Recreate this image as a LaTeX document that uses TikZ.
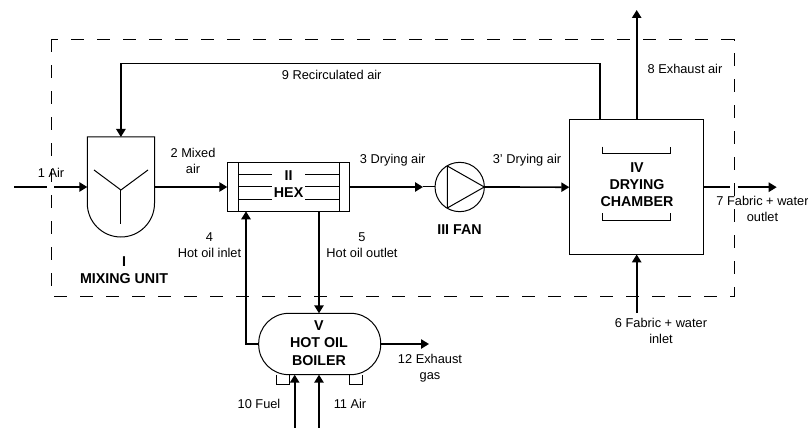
\documentclass[tikz,border=0pt]{standalone}
\usepackage{fontspec}
\setmainfont{Liberation Sans}
\usetikzlibrary{arrows.meta}

\tikzset{every picture/.style={line width=0.75pt}}
\tikzset{
	unit/.style={draw,inner sep=0pt,outer sep=0pt},
	flow/.style={line width=1.25pt},
	flowarrow/.style={line width=1.25pt,-{Triangle[length=6pt,width=7pt]}},
	streamtext/.style={inner sep=0pt,align=center,font=\fontsize{9.6}{12}\selectfont},
	unittext/.style={inner sep=0pt,align=center,font=\fontsize{10.7}{13}\selectfont\bfseries}
}

\begin{document}
\begin{tikzpicture}[x=0.75pt,y=0.75pt,yscale=-1,xscale=1]
	\useasboundingbox (0,0) rectangle (808,428);

	%Shape: Rectangle, plant boundary
	\draw [dash pattern=on 9.75pt off 9.75pt,dash phase=4.3pt] (51,40) -- (734,40) -- (734,296) -- (51,296) -- cycle ;

	%Shape: Mixing unit
	\node [inner sep=0pt,outer sep=0pt,minimum width=50.4pt,minimum height=75pt] (mixer) at (120.9,187) {};
	\draw (mixer.north west) -- (mixer.north east) -- (154.5,203.4) arc [start angle=0,end angle=180,radius=33.6] -- cycle ;
	\draw (94,170) -- (120.9,190) -- (148,170) ;
	\draw (120.9,190) -- (120.9,224) ;

	%Shape: Heat exchanger
	\node [unit,minimum width=92pt,minimum height=36.5pt] (hex) at (288.6,187) {};
	\draw (238,162.7) -- (238,211.3) ;
	\draw (339.3,162.7) -- (339.3,211.3) ;
	\draw (238,175) -- (272,175) ;
	\draw (305,175) -- (339.3,175) ;
	\draw (238,187) -- (272,187) ;
	\draw (305,187) -- (339.3,187) ;
	\draw (238,199.6) -- (272,199.6) ;
	\draw (305,199.6) -- (339.3,199.6) ;

	%Shape: Fan
	\node [unit,circle,minimum size=37pt] (fan) at (459.7,187) {};
	\draw (447.3,166) -- (484.3,187) -- (447.3,208) -- cycle ;

	%Shape: Drying chamber
	\node [unit,minimum width=100.8pt,minimum height=100.8pt] (chamber) at (636.5,187.2) {};
	\draw (602.7,146.7) -- (602.7,154) -- (670.3,154) -- (670.3,146.7) ;
	\draw (602.7,213.3) -- (602.7,220.7) -- (670.3,220.7) -- (670.3,213.3) ;

	%Shape: Hot oil boiler
	\node [unit,rounded corners=22.5pt,minimum width=91.5pt,minimum height=46pt] (boiler) at (319.7,344) {};
	\draw (276.7,374.7) -- (276.7,384) -- (289,384) -- (289,374.7) ;
	\draw (349.7,374.7) -- (349.7,384) -- (362.7,384) -- (362.7,374.7) ;

	% Free ends of the streams
	\coordinate (airin) at (14,187);
	\coordinate (airgapa) at (47,187);
	\coordinate (airgapb) at (54,187);
	\coordinate (dryingtip) at (423,187);
	\coordinate (recyclestart) at (600,120);
	\coordinate (recycleright) at (600,63.5);
	\coordinate (recycleleft) at (120.9,63.5);
	\coordinate (exhauststart) at (636.7,120);
	\coordinate (exhaustend) at (636.7,10);
	\coordinate (fabricin) at (636.7,313);
	\coordinate (fabricinend) at (636.7,254.4);
	\coordinate (fabricgapa) at (730,187.2);
	\coordinate (fabricgapb) at (737.7,187.2);
	\coordinate (fabricout) at (776.7,187.2);
	\coordinate (oilinend) at (246,211.3);
	\coordinate (oilcorner) at (246,344);
	\coordinate (oilstart) at (319,211.3);
	\coordinate (oilend) at (319,313.3);
	\coordinate (gasend) at (429,344);
	\coordinate (fuelin) at (294.7,428);
	\coordinate (fuelend) at (294.7,374.7);
	\coordinate (boilerairin) at (319,428);
	\coordinate (boilerairend) at (319,374.7);

	%Straight Lines
	\draw [flow] (airin) -- (airgapa) ;
	\draw [flowarrow] (airgapb) -- (mixer.west) ;
	\draw [flowarrow] (mixer.east) -- (hex.west) ;
	\draw [flowarrow] (hex.east) -- (dryingtip) ;
	\draw (dryingtip) -- (fan.west) ;
	\draw [flowarrow] (fan.east) -- (chamber.west) ;
	\draw [flowarrow] (recyclestart) -- (recycleright) -- (recycleleft) -- (mixer.north) ;
	\draw [flowarrow] (exhauststart) -- (exhaustend) ;
	\draw [flowarrow] (fabricin) -- (fabricinend) ;
	\draw [flow] (chamber.east) -- (fabricgapa) ;
	\draw [flowarrow] (fabricgapb) -- (fabricout) ;
	\draw [flowarrow] (boiler.west) -- (oilcorner) -- (oilinend) ;
	\draw [flowarrow] (oilstart) -- (oilend) ;
	\draw [flowarrow] (boiler.east) -- (gasend) ;
	\draw [flowarrow] (fuelin) -- (fuelend) ;
	\draw [flowarrow] (boilerairin) -- (boilerairend) ;

	% Text Node
	\node [streamtext] (airlabel) at (51,173) {1 Air};
	% Text Node
	\node [streamtext] (mixedlabel) at (193,160.5) {2 Mixed\\air};
	% Text Node
	\node [streamtext] (dryinglabel) at (392.7,160) {3 Drying air};
	% Text Node
	\node [streamtext] (fanoutlabel) at (527,160) {3' Drying air};
	% Text Node
	\node [streamtext] (oilinlabel) at (209.5,245.5) {4\\Hot oil inlet};
	% Text Node
	\node [streamtext] (oiloutlabel) at (362,245.5) {5\\Hot oil outlet};
	% Text Node
	\node [streamtext] (fabricinlabel) at (661,331) {6 Fabric + water\\inlet};
	% Text Node
	\node [streamtext] (fabricoutlabel) at (762.5,209) {7 Fabric + water\\outlet};
	% Text Node
	\node [streamtext] (exhaustlabel) at (685,69) {8 Exhaust air};
	% Text Node
	\node [streamtext] (recyclelabel) at (331.7,75) {9 Recirculated air};
	% Text Node
	\node [streamtext] (fuellabel) at (259,404) {10 Fuel};
	% Text Node
	\node [streamtext] (boilerairlabel) at (350,404) {11 Air};
	% Text Node
	\node [streamtext] (gaslabel) at (430,368) {12 Exhaust\\gas};
	% Text Node
	\node [unittext] (mixerlabel) at (124,270) {I\\MIXING UNIT};
	% Text Node
	\node [unittext] (hexlabel) at (288.6,184) {II\\HEX};
	% Text Node
	\node [unittext] (fanlabel) at (459.5,230) {III FAN};
	% Text Node
	\node [unittext] (chamberlabel) at (637,184.5) {IV\\DRYING\\CHAMBER};
	% Text Node
	\node [unittext] (boilerlabel) at (319,343) {V\\HOT OIL\\BOILER};
\end{tikzpicture}
\end{document}
